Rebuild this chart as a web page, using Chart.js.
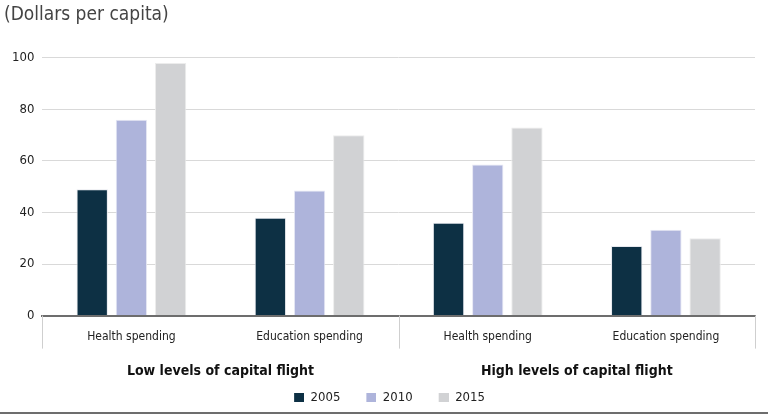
<!DOCTYPE html>
<html>
<head>
<meta charset="utf-8">
<script src="https://cdn.jsdelivr.net/npm/chart.js@4"></script>
<style>
html,body{margin:0;padding:0;background:#fff;}
#wrap{width:768px;height:416px;position:relative;}
</style>
</head>
<body>
<div id="wrap"><canvas id="c"></canvas></div>
<script>
const categories = ["Health spending", "Education spending", "Health spending", "Education spending"];
const groups = ["Low levels of capital flight", "High levels of capital flight"];
const seriesNames = ["2005", "2010", "2015"];
const values2005 = [49, 38, 36, 27];
const values2010 = [76, 48.5, 58.6, 33.3];
const values2015 = [98, 70, 73, 30];
const yTicks = [0, 20, 40, 60, 80, 100];
const colors = ["#0d3044", "#aeb4db", "#d1d2d4"];

const FONT = "'Liberation Sans Narrow', 'Arial Narrow', 'DejaVu Sans Condensed', sans-serif";

// legend marker: small square at the right end of a transparent slot
function marker(color) {
  const c = document.createElement('canvas');
  c.width = 30; c.height = 9;
  const g = c.getContext('2d');
  g.fillStyle = color;
  g.fillRect(20, 0, 10, 9);
  return c;
}

const decor = {
  id: 'decor',
  afterDraw(chart) {
    const ctx = chart.ctx;
    const x = chart.scales.x;
    const area = chart.chartArea;
    const mid = (x.getPixelForTick(1) + x.getPixelForTick(2)) / 2;
    ctx.save();
    ctx.strokeStyle = '#cfcfcf';
    ctx.lineWidth = 1;
    [area.left, mid, area.right].forEach(px => {
      ctx.beginPath();
      ctx.moveTo(Math.round(px) + 0.5, area.bottom);
      ctx.lineTo(Math.round(px) + 0.5, area.bottom + 33);
      ctx.stroke();
    });
    ctx.strokeStyle = '#6d6d6d';
    ctx.lineWidth = 2;
    ctx.beginPath();
    ctx.moveTo(0, 413);
    ctx.lineTo(chart.width, 413);
    ctx.stroke();
    ctx.restore();
  }
};

new Chart(document.getElementById('c'), {
  type: 'bar',
  data: {
    labels: categories,
    datasets: [
      { label: seriesNames[0], data: values2005, backgroundColor: colors[0], borderColor: '#e6e8ee', borderWidth: 1, pointStyle: marker(colors[0]) },
      { label: seriesNames[1], data: values2010, backgroundColor: colors[1], borderColor: '#e6e8f4', borderWidth: 1, pointStyle: marker(colors[1]) },
      { label: seriesNames[2], data: values2015, backgroundColor: colors[2], borderColor: '#ececec', borderWidth: 1, pointStyle: marker(colors[2]) }
    ]
  },
  plugins: [decor],
  options: {
    responsive: true,
    maintainAspectRatio: false,
    animation: false,
    layout: { padding: { left: 4, right: 13, top: 4, bottom: 2 } },
    datasets: { bar: { categoryPercentage: 0.66, barPercentage: 0.8 } },
    scales: {
      y: {
        min: 0, max: 100,
        afterBuildTicks(scale) { scale.ticks = yTicks.map(v => ({ value: v })); },
        ticks: { color: '#222', font: { family: FONT, size: 13 }, padding: 8 },
        grid: { color: '#d9d9d9', lineWidth: 1, drawTicks: false },
        border: { display: false }
      },
      x: {
        ticks: { color: '#222', font: { family: FONT, size: 12 }, padding: 6 },
        grid: { display: false },
        border: { display: true, color: '#6d6d6d', width: 2 }
      },
      x2: {
        type: 'category',
        labels: groups,
        position: 'bottom',
        offset: true,
        ticks: { color: '#111', font: { family: FONT, size: 14, weight: 'bold', lineHeight: 1.786 }, padding: 1 },
        grid: { display: false },
        border: { display: false }
      }
    },
    plugins: {
      title: {
        display: true,
        text: '(Dollars per capita)',
        align: 'start',
        color: '#444',
        font: { family: FONT, size: 19, weight: 'normal' },
        padding: { top: 0, bottom: 31 }
      },
      legend: {
        position: 'bottom',
        labels: {
          color: '#222',
          font: { family: FONT, size: 13 },
          usePointStyle: true,
          pointStyleWidth: 30,
          boxHeight: 10,
          padding: 6
        }
      },
      tooltip: { enabled: false }
    }
  }
});
</script>
</body>
</html>
